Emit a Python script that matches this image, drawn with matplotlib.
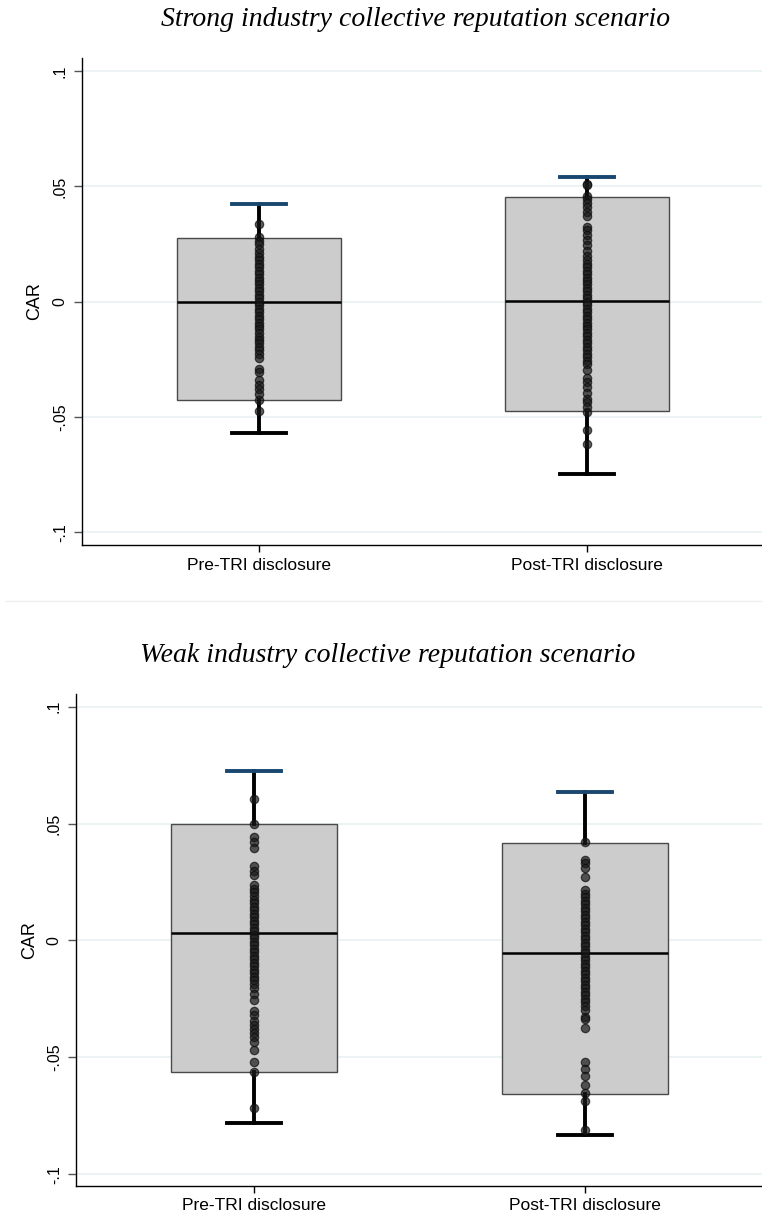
#! /usr/bin/env python3

""" Box plots of CAR before and after TRI disclosure, strong vs weak scenario.
"""

import matplotlib
matplotlib.use("Agg")
from matplotlib import pyplot as plt

categories = ["Pre-TRI disclosure", "Post-TRI disclosure"]
ytick_values = [-0.1, -0.05, 0.0, 0.05, 0.1]
ytick_labels = ["-.1", "-.05", "0", ".05", ".1"]

# box statistics: [pre, post]
strong_lo = [-0.0569, -0.0747]
strong_q1 = [-0.0426, -0.0474]
strong_med = [0.0, 0.0003]
strong_q3 = [0.0276, 0.0454]
strong_hi = [0.0424, 0.0541]

weak_lo = [-0.078, -0.0832]
weak_q1 = [-0.0561, -0.0657]
weak_med = [0.0031, -0.0052]
weak_q3 = [0.0496, 0.0416]
weak_hi = [0.0725, 0.0636]

# individual CAR observations
strong_pre = [0.0337, 0.028, 0.0265, 0.025, 0.023, 0.021, 0.0195, 0.018, 0.0165,
              0.015, 0.0135, 0.012, 0.0105, 0.009, 0.0075, 0.006, 0.0045, 0.003,
              0.0015, 0.0, -0.0015, -0.003, -0.0045, -0.006, -0.0075, -0.009,
              -0.0105, -0.012, -0.0135, -0.0155, -0.0165, -0.018, -0.0195, -0.021,
              -0.0225, -0.0245, -0.029, -0.0305, -0.034, -0.036, -0.038, -0.040,
              -0.0425, -0.0475]
strong_post = [0.051, 0.0505, 0.046, 0.0445, 0.043, 0.041, 0.039, 0.037, 0.0325,
               0.031, 0.029, 0.027, 0.0245, 0.022, 0.020, 0.018, 0.0165, 0.015,
               0.0135, 0.012, 0.0105, 0.009, 0.0075, 0.006, 0.0045, 0.003, 0.0015,
               0.0, -0.0015, -0.003, -0.0045, -0.006, -0.0075, -0.009, -0.0105,
               -0.012, -0.0135, -0.015, -0.0165, -0.018, -0.0195, -0.021, -0.0225,
               -0.024, -0.0255, -0.027, -0.0295, -0.033, -0.035, -0.037, -0.0395,
               -0.042, -0.0435, -0.0455, -0.048, -0.0555, -0.0615]
weak_pre = [0.0605, 0.0498, 0.0443, 0.042, 0.0396, 0.0319, 0.0295, 0.028, 0.0237,
            0.022, 0.0205, 0.019, 0.0175, 0.016, 0.0145, 0.013, 0.0115, 0.010,
            0.0085, 0.007, 0.0055, 0.004, 0.0025, 0.001, -0.0005, -0.002, -0.0035,
            -0.005, -0.0065, -0.008, -0.0095, -0.011, -0.0125, -0.014, -0.0155,
            -0.017, -0.0185, -0.0205, -0.023, -0.0255, -0.030, -0.032, -0.0345,
            -0.036, -0.038, -0.0395, -0.0415, -0.0435, -0.047, -0.052, -0.0562,
            -0.0716]
weak_post = [0.0423, 0.0344, 0.0331, 0.031, 0.0272, 0.0216, 0.020, 0.0185, 0.017,
             0.0155, 0.014, 0.0125, 0.011, 0.0095, 0.008, 0.0065, 0.005, 0.0035,
             0.002, 0.0005, -0.001, -0.0025, -0.004, -0.0055, -0.007, -0.0085,
             -0.010, -0.0115, -0.013, -0.0145, -0.016, -0.0175, -0.019, -0.0205,
             -0.022, -0.0235, -0.025, -0.0265, -0.028, -0.0297, -0.0327, -0.0335,
             -0.0374, -0.052, -0.055, -0.058, -0.062, -0.0654, -0.0688, -0.081]

BOX_FACE = "#cccccc"
CAP_BLUE = "#1a476f"
GRID = "#eaf2f3"
SANS = ["Liberation Sans", "DejaVu Sans"]
SERIF = ["Liberation Serif", "DejaVu Serif"]


def draw_panel(ax, lo, q1, med, q3, hi, points, xlim, ylim, ylabel_x):
    """ Draw one box-plot panel with the observations stacked on each box.
    """
    stats = []
    for i, label in enumerate(categories):
        stats.append({"label": label, "whislo": lo[i], "q1": q1[i], "med": med[i],
                      "q3": q3[i], "whishi": hi[i]})
    parts = ax.bxp(stats, positions=[1, 2], widths=0.5, capwidths=0.165,
                   patch_artist=True, showfliers=False,
                   boxprops=dict(facecolor=BOX_FACE, edgecolor="#4a4a4a", lw=1.0),
                   medianprops=dict(color="black", lw=1.8),
                   whiskerprops=dict(color="black", lw=2.8),
                   capprops=dict(color="black", lw=2.8))
    # upper caps are navy, lower caps black
    parts["caps"][1].set_color(CAP_BLUE)
    parts["caps"][3].set_color(CAP_BLUE)

    for pos, vals in zip([1, 2], points):
        ax.plot([pos] * len(vals), vals, "o", ms=6, color="#1a1a1a", alpha=0.7,
                mec="#0d0d0d", mew=0.9, zorder=5)

    ax.set_xlim(*xlim)
    ax.set_ylim(*ylim)
    ax.set_yticks(ytick_values)
    ax.set_yticklabels(ytick_labels, rotation=90, va="center", family=SANS,
                       fontsize=11.5)
    ax.set_xticks([1, 2])
    ax.set_xticklabels(categories, family=SANS, fontsize=12.5)
    ax.tick_params(axis="y", length=6, width=1, color="#555555", pad=4)
    ax.tick_params(axis="x", length=5, width=1, color="black", pad=4)
    ax.set_ylabel("CAR", family=SANS, fontsize=13)
    ax.yaxis.set_label_coords(ylabel_x, 0.5)
    ax.yaxis.grid(True, color=GRID, lw=1.3)
    ax.set_axisbelow(True)
    for side in ["top", "right"]:
        ax.spines[side].set_visible(False)
    for side in ["left", "bottom"]:
        ax.spines[side].set_linewidth(1.0)


if __name__ == "__main__":
    fig = plt.figure(figsize=(7.62, 12.22), dpi=100)

    ax1 = fig.add_axes([0.1072, 0.554, 0.8928, 0.3985])
    draw_panel(ax1, strong_lo, strong_q1, strong_med, strong_q3, strong_hi,
               [strong_pre, strong_post], (0.4595, 2.534), (-0.1055, 0.1057),
               -0.056)

    ax2 = fig.add_axes([0.0993, 0.0295, 0.9007, 0.4026])
    draw_panel(ax2, weak_lo, weak_q1, weak_med, weak_q3, weak_hi,
               [weak_pre, weak_post], (0.4613, 2.5347), (-0.105, 0.1054),
               -0.055)

    fig.text(416 / 762, 1 - 20 / 1222, "Strong industry collective reputation scenario",
             ha="center", va="center", style="italic", family=SERIF, fontsize=20)
    fig.text(388 / 762, 1 - 656 / 1222, "Weak industry collective reputation scenario",
             ha="center", va="center", style="italic", family=SERIF, fontsize=20)

    # faint separator between the two graphs
    fig.add_artist(plt.Line2D([6 / 762, 1.0], [1 - 601 / 1222] * 2, color="#eeeeee",
                              lw=1, transform=fig.transFigure))

    fig.savefig("out.png", dpi=100)
